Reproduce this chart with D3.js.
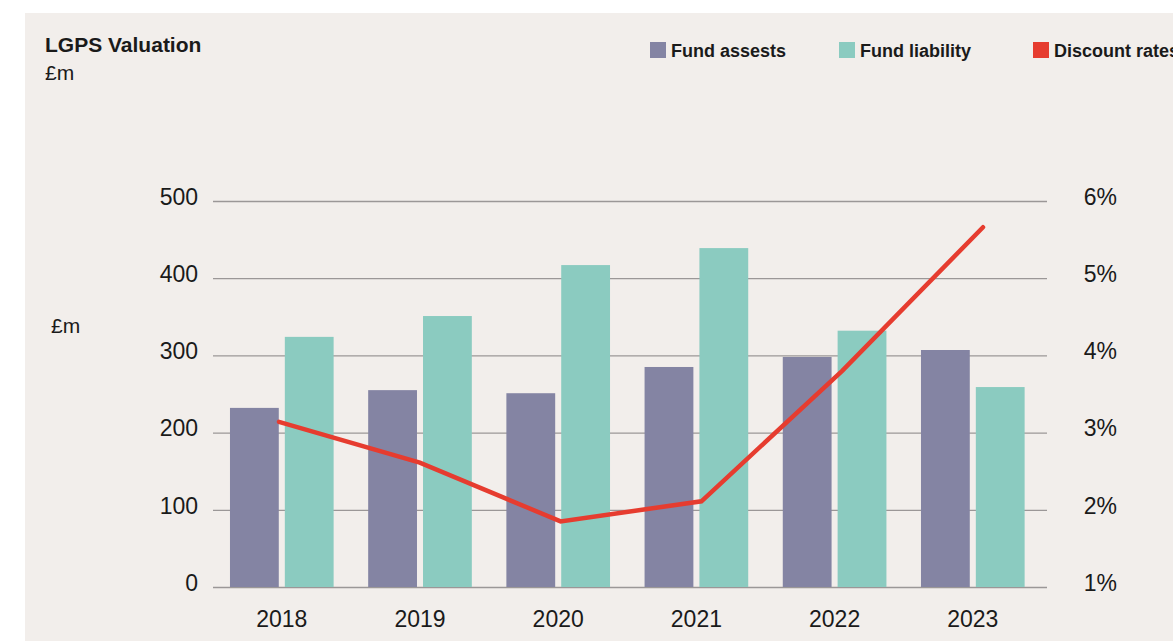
<!DOCTYPE html>
<html>
<head>
<meta charset="utf-8">
<script src="https://cdn.jsdelivr.net/npm/d3@7"></script>
<style>
  body { margin: 0; background: #fff; }
  text { font-family: "Liberation Sans", Arial, sans-serif; fill: #1a1a1a; }
</style>
</head>
<body>
<div id="chart"></div>
<script>
// chart data
const years = ['2018', '2019', '2020', '2021', '2022', '2023'];
const fundAssets = [232, 255, 251, 285, 298, 307];
const fundLiability = [324, 351, 417, 439, 332, 259];
const discountRates = [3.14, 2.61, 1.85, 2.11, 3.8, 5.66];
const leftTicks = [0, 100, 200, 300, 400, 500];
const rightTicks = [1, 2, 3, 4, 5, 6];

const width = 1173, height = 641;
const colAssets = '#8484a3', colLiab = '#8bcbc0', colRate = '#e63c2f';
const fontFam = '"Liberation Sans", Arial, sans-serif';

const svg = d3.select('#chart')
    .append('svg')
    .attr('width', width)
    .attr('height', height);

// panel
svg.append('rect')
    .attr('x', 25).attr('y', 13)
    .attr('width', width - 25).attr('height', height - 13)
    .attr('fill', '#f2eeeb');

const x = d3.scaleBand().domain(years).range([212.7, 1041.9]).paddingInner(0.25).paddingOuter(0.125);
// the red line sits on its own slightly wider spacing
const xLine = d3.scalePoint().domain(years).range([279, 983]);
const y = d3.scaleLinear().domain([0, 500]).range([587, 201]);
const y2 = d3.scaleLinear().domain([1, 6]).range([587, 201]);
const sub = d3.scaleBand().domain(['a', 'l']).range([0, x.bandwidth()]).paddingInner(0.11);

// gridlines
svg.append('g')
    .selectAll('line')
    .data(leftTicks)
    .enter()
    .append('line')
    .attr('x1', 213).attr('x2', 1047)
    .attr('y1', d => y(d) + 0.5).attr('y2', d => y(d) + 0.5)
    .attr('stroke', '#9b9797')
    .attr('stroke-width', 1.3);

function styleTicks(g) {
    g.select('.domain').remove();
    g.selectAll('text')
        .attr('font-size', 23)
        .attr('font-family', fontFam)
        .attr('fill', '#1a1a1a');
}

// left axis
const leftAxis = svg.append('g')
    .attr('transform', 'translate(198,0)')
    .call(d3.axisLeft(y).tickValues(leftTicks).tickSize(0).tickPadding(0));
styleTicks(leftAxis);
leftAxis.selectAll('text').attr('dy', '0.14em');

// right axis
const rightAxis = svg.append('g')
    .attr('transform', 'translate(1117,0)')
    .call(d3.axisLeft(y2).tickValues(rightTicks).tickSize(0).tickPadding(0).tickFormat(d => d + '%'));
styleTicks(rightAxis);
rightAxis.selectAll('text').attr('dy', '0.14em');

// x axis
const bottomAxis = svg.append('g')
    .attr('transform', 'translate(0,587)')
    .call(d3.axisBottom(x).tickSize(0).tickPadding(24));
styleTicks(bottomAxis);

// bars
const groups = svg.selectAll('.grp')
    .data(years)
    .enter()
    .append('g')
    .attr('class', 'grp')
    .attr('transform', d => 'translate(' + x(d) + ',0)');

groups.append('rect')
    .attr('x', sub('a'))
    .attr('width', sub.bandwidth())
    .attr('y', (d, i) => y(fundAssets[i]))
    .attr('height', (d, i) => y(0) - y(fundAssets[i]))
    .attr('fill', colAssets);

groups.append('rect')
    .attr('x', sub('l'))
    .attr('width', sub.bandwidth())
    .attr('y', (d, i) => y(fundLiability[i]))
    .attr('height', (d, i) => y(0) - y(fundLiability[i]))
    .attr('fill', colLiab);

// discount rate line
const line = d3.line()
    .x((d, i) => xLine(years[i]))
    .y(d => y2(d));

svg.append('path')
    .datum(discountRates)
    .attr('d', line)
    .attr('fill', 'none')
    .attr('stroke', colRate)
    .attr('stroke-width', 4.5)
    .attr('stroke-linecap', 'round')
    .attr('stroke-linejoin', 'miter');

// titles
svg.append('text')
    .attr('x', 45).attr('y', 52)
    .attr('font-size', 21).attr('font-weight', 'bold')
    .text('LGPS Valuation');
svg.append('text')
    .attr('x', 45).attr('y', 80)
    .attr('font-size', 21).attr('fill', '#555')
    .text('£m');
svg.append('text')
    .attr('x', 51).attr('y', 333)
    .attr('font-size', 21)
    .text('£m');

// legend
const legendItems = [
    { label: 'Fund assests', color: colAssets, x: 650 },
    { label: 'Fund liability', color: colLiab, x: 839 },
    { label: 'Discount rates', color: colRate, x: 1033 }
];
const legend = svg.selectAll('.legend')
    .data(legendItems)
    .enter()
    .append('g')
    .attr('class', 'legend')
    .attr('transform', d => 'translate(' + d.x + ',42)');
legend.append('rect')
    .attr('width', 16).attr('height', 16)
    .attr('fill', d => d.color);
legend.append('text')
    .attr('x', 21).attr('y', 15)
    .attr('font-size', 18).attr('font-weight', 'bold')
    .attr('fill', '#1a1a1a')
    .text(d => d.label);
</script>
</body>
</html>
